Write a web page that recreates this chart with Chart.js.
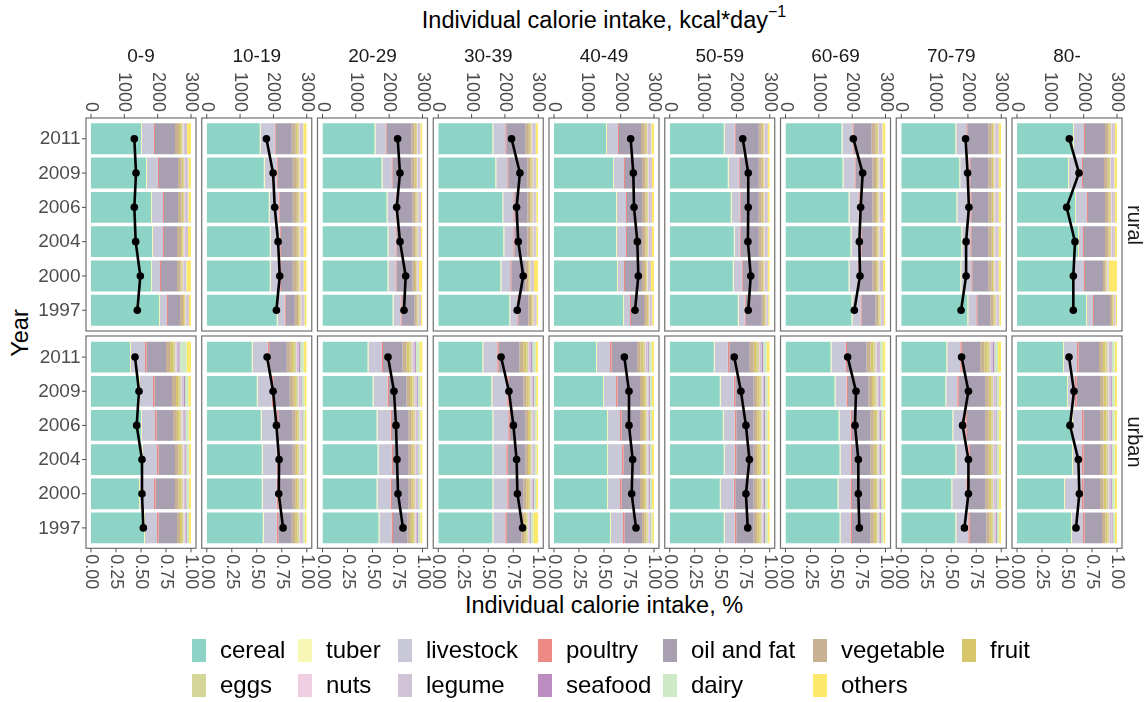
<!DOCTYPE html>
<html>
<head>
<meta charset="utf-8">
<title>Individual calorie intake by food group</title>
<script src="https://cdn.jsdelivr.net/npm/chart.js@4.4.0/dist/chart.umd.min.js"></script>
<style>
  html, body { margin: 0; padding: 0; background: #fff; }
  #page { position: relative; width: 1146px; height: 702px; overflow: hidden; background: #fff;
          font-family: 'Liberation Sans', Arial, sans-serif; }
  #page canvas { position: absolute; left: 0; top: 0; }
  .lbl { position: absolute; white-space: nowrap; transform: translate(-50%, -50%); line-height: 1; color: #000; }
  .lbl sup { font-size: 16px; position: relative; top: -0.15em; }
  .key { position: absolute; width: 14px; height: 23px; }
  .ltxt { position: absolute; font-size: 24px; line-height: 1; transform: translateY(-50%); white-space: nowrap; color: #000; }
</style>
</head>
<body>
<div id="page">
  <div class="lbl" style="left:604px;top:19px;font-size:23.5px;">Individual calorie intake, kcal*day<sup>−1</sup></div>
  <div class="lbl" style="left:604px;top:606px;font-size:23.5px;">Individual calorie intake, %</div>
  <div class="lbl" style="left:21px;top:333px;font-size:23.5px;transform:translate(-50%,-50%) rotate(-90deg);">Year</div>
</div>
<script>
// ---- categories -------------------------------------------------------
const years = ['2011', '2009', '2006', '2004', '2000', '1997'];
const ageGroups = ['0-9', '10-19', '20-29', '30-39', '40-49', '50-59', '60-69', '70-79', '80-'];
const areas = ['rural', 'urban'];
const foodGroups = ['cereal', 'tuber', 'livestock', 'poultry', 'oil and fat', 'vegetable', 'fruit',
                    'eggs', 'nuts', 'legume', 'seafood', 'dairy', 'others'];
const foodColors = ['#8dd3c6', '#f7f8b6', '#c9c8d8', '#ee8a85', '#a89fb0', '#c9b294', '#d8c66c',
                    '#d3d599', '#f0cee2', '#d0c3d6', '#bc8dc0', '#cde9c5', '#fde86c'];

// ---- tick labels --------------------------------------------------------
const kcalTicks = [0, 1000, 2000, 3000];
const shareTicks = [0, 0.25, 0.5, 0.75, 1];
const shareTickLabels = ['0.00', '0.25', '0.50', '0.75', '1.00'];

// ---- calorie intake (kcal per day), one row per age group, years as in `years`
const ruralKcal = [
  [1300, 1350, 1300, 1340, 1480, 1390],
  [1790, 1990, 2040, 2140, 2190, 2090],
  [2255, 2325, 2225, 2325, 2495, 2445],
  [2200, 2450, 2350, 2400, 2550, 2370],
  [2300, 2380, 2400, 2500, 2530, 2430],
  [2190, 2355, 2355, 2345, 2430, 2355],
  [2035, 2315, 2255, 2215, 2235, 2065],
  [1930, 1990, 2030, 1945, 1945, 1795],
  [1570, 1860, 1490, 1740, 1690, 1690]
];
const urbanKcal = [
  [1320, 1440, 1370, 1530, 1530, 1570],
  [1810, 1990, 2090, 2170, 2160, 2290],
  [1965, 2145, 2205, 2235, 2265, 2415],
  [1885, 2120, 2255, 2350, 2375, 2530],
  [2110, 2250, 2250, 2360, 2330, 2460],
  [1935, 2135, 2285, 2390, 2285, 2340],
  [1865, 2115, 2085, 2185, 2185, 2215],
  [1810, 2015, 1840, 2015, 2015, 1895],
  [1560, 1710, 1590, 1840, 1870, 1770]
];

// ---- share of calorie intake by food group: rural --------------------------
const ruralCereal = [
  [.50, .55, .60, .61, .60, .68], [.53, .57, .62, .63, .63, .70], [.52, .59, .64, .65, .65, .70],
  [.54, .57, .64, .65, .62, .71], [.52, .59, .62, .62, .63, .69], [.54, .58, .61, .64, .63, .68],
  [.56, .57, .63, .65, .63, .66], [.54, .58, .55, .60, .59, .66], [.56, .51, .58, .61, .56, .69]
];
const ruralTuber = [
  [.01, .01, .01, .01, .01, .01], [.01, .01, .01, .01, .01, .01], [.01, .01, .01, .01, .01, .01],
  [.01, .01, .01, .01, .01, .01], [.01, .01, .01, .01, .01, .01], [.01, .01, .01, .01, .01, .01],
  [.01, .01, .01, .01, .01, .01], [.01, .01, .01, .01, .01, .01], [.01, .01, .01, .01, .01, .01]
];
const ruralLivestock = [
  [.12, .11, .11, .10, .08, .07], [.14, .12, .09, .09, .09, .07], [.10, .09, .08, .07, .07, .07],
  [.12, .11, .10, .09, .09, .07], [.11, .10, .09, .09, .06, .06], [.10, .10, .08, .05, .08, .06],
  [.10, .11, .09, .09, .08, .08], [.10, .09, .13, .08, .10, .08], [.10, .13, .11, .04, .10, .06]
];
const ruralPoultry = [
  [.01, .01, .01, .01, .01, .01], [.01, .01, .01, .01, .01, .01], [.01, .01, .01, .01, .01, .01],
  [.01, .01, .01, .01, .01, .01], [.01, .01, .01, .01, .01, .01], [.01, .01, .01, .01, .01, .01],
  [.01, .01, .01, .01, .01, .01], [.01, .01, .01, .01, .01, .01], [.01, .01, .01, .01, .01, .01]
];
const ruralOil = [
  [.20, .19, .14, .13, .16, .12], [.16, .15, .13, .12, .12, .09], [.25, .19, .16, .16, .16, .13],
  [.19, .19, .13, .13, .14, .10], [.22, .17, .15, .15, .17, .13], [.23, .19, .18, .18, .16, .16],
  [.18, .17, .13, .11, .14, .14], [.21, .18, .17, .17, .16, .13], [.20, .21, .17, .21, .18, .16]
];
const ruralVegetable = [
  [.04, .035, .035, .04, .035, .03], [.04, .04, .04, .04, .04, .033], [.03, .03, .028, .028, .025, .022],
  [.035, .03, .03, .03, .03, .028], [.035, .033, .033, .033, .03, .028], [.03, .03, .03, .03, .03, .022],
  [.04, .035, .035, .035, .035, .028], [.035, .035, .035, .035, .035, .03], [.033, .035, .033, .033, .025, .02]
];
const ruralFruit = [
  [.02, .015, .015, .015, .012, .015], [.018, .015, .015, .015, .015, .015], [.015, .015, .013, .013, .01, .01],
  [.015, .015, .015, .015, .012, .013], [.015, .015, .015, .015, .013, .013], [.015, .015, .015, .015, .015, .01],
  [.015, .015, .015, .015, .015, .013], [.015, .015, .015, .015, .015, .015], [.015, .015, .015, .015, .01, .009]
];
const ruralEggs = [
  [.015, .012, .012, .012, .01, .01], [.014, .012, .012, .012, .012, .011], [.01, .01, .01, .01, .008, .008],
  [.012, .01, .01, .01, .01, .01], [.012, .011, .011, .011, .01, .01], [.01, .01, .01, .01, .01, .008],
  [.012, .012, .012, .012, .012, .01], [.012, .012, .012, .012, .012, .01], [.011, .012, .011, .011, .007, .007]
];
const ruralNuts = [
  [.01, .008, .008, .008, .006, .007], [.009, .008, .008, .008, .008, .008], [.007, .007, .006, .006, .005, .005],
  [.008, .007, .007, .007, .006, .006], [.008, .008, .008, .008, .006, .006], [.007, .007, .007, .007, .007, .005],
  [.008, .008, .008, .008, .008, .006], [.008, .008, .008, .008, .008, .007], [.008, .008, .008, .008, .004, .004]
];
const ruralLegume = [
  [.025, .025, .025, .025, .022, .02], [.025, .025, .025, .025, .025, .022], [.02, .02, .018, .018, .014, .015],
  [.025, .02, .02, .02, .02, .018], [.025, .022, .022, .022, .02, .018], [.02, .02, .02, .02, .02, .015],
  [.025, .025, .025, .025, .025, .018], [.025, .025, .025, .025, .025, .02], [.022, .025, .022, .022, .008, .012]
];
const ruralSeafood = [
  [.005, .005, .005, .005, .005, .004], [.005, .005, .005, .005, .005, .005], [.004, .004, .004, .004, .002, .003],
  [.005, .004, .004, .004, .004, .004], [.005, .005, .005, .005, .005, .004], [.004, .004, .004, .004, .004, .003],
  [.005, .005, .005, .005, .005, .004], [.005, .005, .005, .005, .005, .004], [.005, .005, .005, .005, .002, .002]
];
const ruralDairy = [
  [.005, .005, .005, .005, .005, .004], [.005, .005, .005, .005, .005, .004], [.004, .004, .003, .003, .001, .002],
  [.005, .004, .004, .004, .003, .003], [.005, .004, .004, .004, .004, .003], [.004, .004, .004, .004, .004, .002],
  [.005, .005, .005, .005, .005, .003], [.005, .005, .005, .005, .005, .004], [.004, .005, .004, .004, .004, .002]
];
const ruralOthers = [
  [.04, .025, .025, .03, .045, .02], [.034, .03, .03, .03, .03, .022], [.02, .02, .018, .018, .035, .015],
  [.025, .02, .02, .02, .045, .018], [.025, .022, .022, .022, .032, .018], [.02, .02, .02, .02, .02, .015],
  [.03, .025, .025, .025, .025, .018], [.025, .025, .025, .025, .025, .02], [.022, .025, .022, .022, .08, .014]
];

// ---- share of calorie intake by food group: urban --------------------------
const urbanCereal = [
  [.39, .48, .50, .51, .48, .53], [.45, .50, .54, .55, .55, .56], [.45, .50, .54, .55, .54, .56],
  [.44, .53, .54, .54, .54, .54], [.42, .49, .53, .53, .53, .56], [.44, .50, .53, .54, .50, .54],
  [.45, .49, .53, .54, .52, .54], [.45, .44, .51, .54, .50, .54], [.46, .50, .55, .55, .47, .54]
];
const urbanTuber = [
  [.01, .01, .01, .01, .01, .01], [.01, .01, .01, .01, .01, .01], [.01, .01, .01, .01, .01, .01],
  [.01, .01, .01, .01, .01, .01], [.01, .01, .01, .01, .01, .01], [.01, .01, .01, .01, .01, .01],
  [.01, .01, .01, .01, .01, .01], [.01, .01, .01, .01, .01, .01], [.01, .01, .01, .01, .01, .01]
];
const urbanLivestock = [
  [.14, .13, .13, .14, .14, .12], [.15, .14, .15, .14, .14, .13], [.13, .14, .13, .13, .13, .12],
  [.14, .15, .15, .13, .14, .12], [.13, .12, .12, .14, .12, .12], [.13, .13, .11, .10, .13, .10],
  [.14, .11, .11, .10, .12, .10], [.13, .11, .12, .12, .14, .12], [.13, .07, .09, .09, .17, .11]
];
const urbanPoultry = [
  [.015, .015, .015, .015, .015, .015], [.015, .015, .015, .015, .015, .015], [.015, .015, .015, .015, .015, .015],
  [.015, .015, .015, .015, .015, .015], [.015, .015, .015, .015, .015, .015], [.015, .015, .015, .015, .015, .015],
  [.015, .015, .015, .015, .015, .015], [.015, .015, .015, .015, .015, .015], [.015, .015, .015, .015, .015, .015]
];
const urbanOil = [
  [.195, .175, .165, .165, .195, .185], [.175, .165, .145, .145, .145, .135], [.195, .175, .165, .155, .165, .145],
  [.205, .145, .155, .175, .145, .145], [.255, .225, .185, .165, .185, .175], [.205, .185, .175, .175, .185, .175],
  [.195, .205, .185, .185, .185, .185], [.185, .265, .185, .155, .175, .165], [.205, .235, .165, .165, .165, .175]
];
const urbanVegetable = [
  [.04, .04, .038, .035, .035, .03], [.04, .036, .03, .03, .03, .033], [.04, .035, .03, .03, .03, .033],
  [.04, .033, .028, .028, .033, .03], [.036, .03, .03, .03, .03, .026], [.04, .035, .035, .035, .035, .035],
  [.04, .036, .033, .033, .033, .033], [.042, .035, .035, .035, .035, .033], [.038, .036, .036, .036, .036, .033]
];
const urbanFruit = [
  [.03, .028, .027, .024, .024, .02], [.03, .025, .02, .02, .02, .022], [.03, .024, .02, .02, .02, .022],
  [.028, .022, .019, .019, .022, .02], [.025, .02, .02, .02, .02, .018], [.03, .024, .024, .024, .024, .024],
  [.028, .025, .022, .022, .022, .022], [.031, .024, .024, .024, .024, .022], [.027, .025, .025, .025, .025, .022]
];
const urbanEggs = [
  [.022, .02, .02, .018, .018, .016], [.022, .019, .016, .016, .016, .017], [.022, .018, .016, .016, .016, .017],
  [.02, .017, .015, .015, .017, .015], [.019, .016, .016, .016, .016, .014], [.022, .018, .018, .018, .018, .018],
  [.02, .019, .017, .017, .017, .017], [.023, .018, .018, .018, .018, .017], [.02, .019, .019, .019, .019, .017]
];
const urbanNuts = [
  [.01, .01, .01, .009, .009, .008], [.01, .009, .008, .008, .008, .008], [.01, .009, .008, .008, .008, .008],
  [.01, .008, .007, .007, .008, .007], [.009, .008, .008, .008, .008, .006], [.01, .009, .009, .009, .009, .009],
  [.01, .009, .008, .008, .008, .008], [.011, .009, .009, .009, .009, .008], [.01, .009, .009, .009, .009, .008]
];
const urbanLegume = [
  [.02, .02, .018, .017, .017, .015], [.02, .018, .015, .015, .015, .016], [.02, .017, .015, .015, .015, .016],
  [.02, .016, .014, .014, .016, .014], [.018, .015, .015, .015, .015, .013], [.02, .017, .017, .017, .017, .017],
  [.02, .018, .016, .016, .016, .016], [.02, .017, .017, .017, .017, .016], [.018, .018, .018, .018, .018, .016]
];
const urbanSeafood = [
  [.013, .012, .012, .01, .01, .009], [.012, .011, .009, .009, .009, .01], [.012, .01, .009, .009, .009, .01],
  [.012, .01, .008, .008, .01, .008], [.011, .009, .009, .009, .009, .007], [.012, .01, .01, .01, .01, .01],
  [.012, .011, .01, .01, .01, .01], [.013, .01, .01, .01, .01, .01], [.012, .011, .011, .011, .011, .01]
];
const urbanDairy = [
  [.07, .033, .03, .025, .025, .022], [.035, .028, .022, .022, .022, .023], [.035, .025, .022, .022, .022, .023],
  [.033, .023, .021, .021, .023, .026], [.028, .022, .022, .022, .022, .019], [.035, .025, .025, .025, .025, .025],
  [.033, .028, .023, .023, .023, .023], [.038, .025, .025, .025, .025, .023], [.03, .028, .028, .028, .028, .023]
];
const urbanOthers = [
  [.045, .027, .025, .022, .022, .02], [.031, .024, .02, .02, .02, .021], [.031, .022, .02, .02, .02, .021],
  [.027, .021, .018, .018, .021, .05], [.024, .02, .02, .02, .02, .017], [.031, .022, .022, .022, .022, .022],
  [.027, .024, .021, .021, .021, .021], [.032, .022, .022, .022, .022, .021], [.025, .024, .024, .024, .024, .021]
];

// food-group tables in the same order as `foodGroups`
const ruralShares = [ruralCereal, ruralTuber, ruralLivestock, ruralPoultry, ruralOil, ruralVegetable, ruralFruit,
                     ruralEggs, ruralNuts, ruralLegume, ruralSeafood, ruralDairy, ruralOthers];
const urbanShares = [urbanCereal, urbanTuber, urbanLivestock, urbanPoultry, urbanOil, urbanVegetable, urbanFruit,
                     urbanEggs, urbanNuts, urbanLegume, urbanSeafood, urbanDairy, urbanOthers];
const sharesByArea = [ruralShares, urbanShares];
const kcalByArea = [ruralKcal, urbanKcal];

// ---- page geometry --------------------------------------------------------
const W = 1146, H = 702;
const FIRST_X = 91, COL_STEP = 115.75, PLOT_W = 100, FRAME_PAD = 5;
const ROWS = [
  { top: 121.6, bottom: 327.4, frameTop: 118, frameBottom: 331 },
  { top: 340.0, bottom: 545.0, frameTop: 336, frameBottom: 548.3 }
];
const FONT = "'Liberation Sans', Arial, sans-serif";
const AXIS_GREY = '#4d4d4d';

// frame, ticks and tick labels for one facet panel
const panelFrame = {
  id: 'panelFrame',
  afterDraw(chart, args, opts) {
    const { row, col } = opts;
    const ctx = chart.ctx;
    const a = chart.chartArea;
    const xs = chart.scales.x, x2 = chart.scales.x2, ys = chart.scales.y;
    const fl = a.left - FRAME_PAD, fr = a.right + FRAME_PAD;
    const ft = ROWS[row].frameTop, fb = ROWS[row].frameBottom;
    ctx.save();
    ctx.strokeStyle = '#707070';
    ctx.lineWidth = 1.2;
    ctx.strokeRect(fl, ft, fr - fl, fb - ft);

    ctx.strokeStyle = AXIS_GREY;
    ctx.fillStyle = AXIS_GREY;
    ctx.lineWidth = 1;
    if (col === 0) {
      ctx.font = '19px ' + FONT;
      ctx.textAlign = 'right';
      ctx.textBaseline = 'middle';
      years.forEach((yr, i) => {
        const py = ys.getPixelForValue(i);
        ctx.beginPath(); ctx.moveTo(fl - 4, py); ctx.lineTo(fl, py); ctx.stroke();
        ctx.fillText(yr, fl - 5.5, py + 0.5);
      });
    }
    ctx.font = '18px ' + FONT;
    if (row === 0) {
      kcalTicks.forEach(v => {
        const px = x2.getPixelForValue(v);
        ctx.beginPath(); ctx.moveTo(px, ft - 4); ctx.lineTo(px, ft); ctx.stroke();
        ctx.save();
        ctx.translate(px, ft - 6);
        ctx.rotate(Math.PI / 2);
        ctx.textAlign = 'right';
        ctx.textBaseline = 'middle';
        ctx.fillText(String(v), 0, 0);
        ctx.restore();
      });
    } else {
      shareTicks.forEach((v, i) => {
        const px = xs.getPixelForValue(v);
        ctx.beginPath(); ctx.moveTo(px, fb); ctx.lineTo(px, fb + 4); ctx.stroke();
        ctx.save();
        ctx.translate(px, fb + 6);
        ctx.rotate(Math.PI / 2);
        ctx.textAlign = 'left';
        ctx.textBaseline = 'middle';
        ctx.fillText(shareTickLabels[i], 0, 0);
        ctx.restore();
      });
    }
    ctx.restore();
  }
};

const page = document.getElementById('page');

function makePanel(row, col) {
  const canvas = document.createElement('canvas');
  canvas.width = W; canvas.height = H;
  page.appendChild(canvas);
  const left = FIRST_X + col * COL_STEP;
  const shares = sharesByArea[row];
  const datasets = [{
    type: 'line',
    label: 'kcal',
    data: kcalByArea[row][col],
    indexAxis: 'y',
    xAxisID: 'x2',
    yAxisID: 'y',
    borderColor: '#000',
    borderWidth: 2.6,
    pointRadius: 3.8,
    pointBackgroundColor: '#000',
    pointBorderColor: '#000',
    pointBorderWidth: 0,
    tension: 0,
    order: 0,
    clip: false
  }];
  foodGroups.forEach((name, i) => {
    datasets.push({
      type: 'bar',
      label: name,
      data: shares[i][col],
      backgroundColor: foodColors[i],
      borderWidth: 0,
      xAxisID: 'x',
      yAxisID: 'y',
      barPercentage: 0.9,
      categoryPercentage: 1,
      order: 1
    });
  });
  return new Chart(canvas, {
    type: 'bar',
    data: { labels: years, datasets },
    options: {
      responsive: false,
      animation: false,
      devicePixelRatio: 1,
      events: [],
      indexAxis: 'y',
      layout: { padding: { left: left, right: W - (left + PLOT_W), top: ROWS[row].top, bottom: H - ROWS[row].bottom } },
      scales: {
        x: { display: false, stacked: true, min: 0, max: 1 },
        x2: { display: false, axis: 'x', type: 'linear', position: 'top', stacked: false, min: 0, max: 3000 },
        y: { display: false, stacked: true, offset: true }
      },
      plugins: {
        legend: { display: false },
        tooltip: { enabled: false },
        panelFrame: { row, col }
      }
    },
    plugins: [panelFrame]
  });
}

for (let r = 0; r < areas.length; r++) {
  for (let c = 0; c < ageGroups.length; c++) makePanel(r, c);
}

// facet strip labels
ageGroups.forEach((g, c) => {
  const d = document.createElement('div');
  d.className = 'lbl';
  d.style.cssText = `left:${FIRST_X + c * COL_STEP + PLOT_W / 2}px;top:55px;font-size:19px;color:#1a1a1a;`;
  d.textContent = g;
  page.appendChild(d);
});
areas.forEach((name, r) => {
  const d = document.createElement('div');
  d.className = 'lbl';
  const cy = (ROWS[r].frameTop + ROWS[r].frameBottom) / 2;
  d.style.cssText = `left:1135px;top:${cy}px;font-size:20px;color:#1a1a1a;transform:translate(-50%,-50%) rotate(90deg);`;
  d.textContent = name;
  page.appendChild(d);
});

// legend: two rows, seven columns
const legendColX = [192, 298, 398, 538, 663, 813, 962];
const legendRowY = [650, 685];
foodGroups.forEach((name, i) => {
  const r = Math.floor(i / 7), c = i % 7;
  const key = document.createElement('div');
  key.className = 'key';
  key.style.cssText = `left:${legendColX[c]}px;top:${legendRowY[r] - 11.5}px;background:${foodColors[i]};`;
  page.appendChild(key);
  const t = document.createElement('div');
  t.className = 'ltxt';
  t.style.cssText = `left:${legendColX[c] + 28}px;top:${legendRowY[r]}px;`;
  t.textContent = name;
  page.appendChild(t);
});
</script>
</body>
</html>
